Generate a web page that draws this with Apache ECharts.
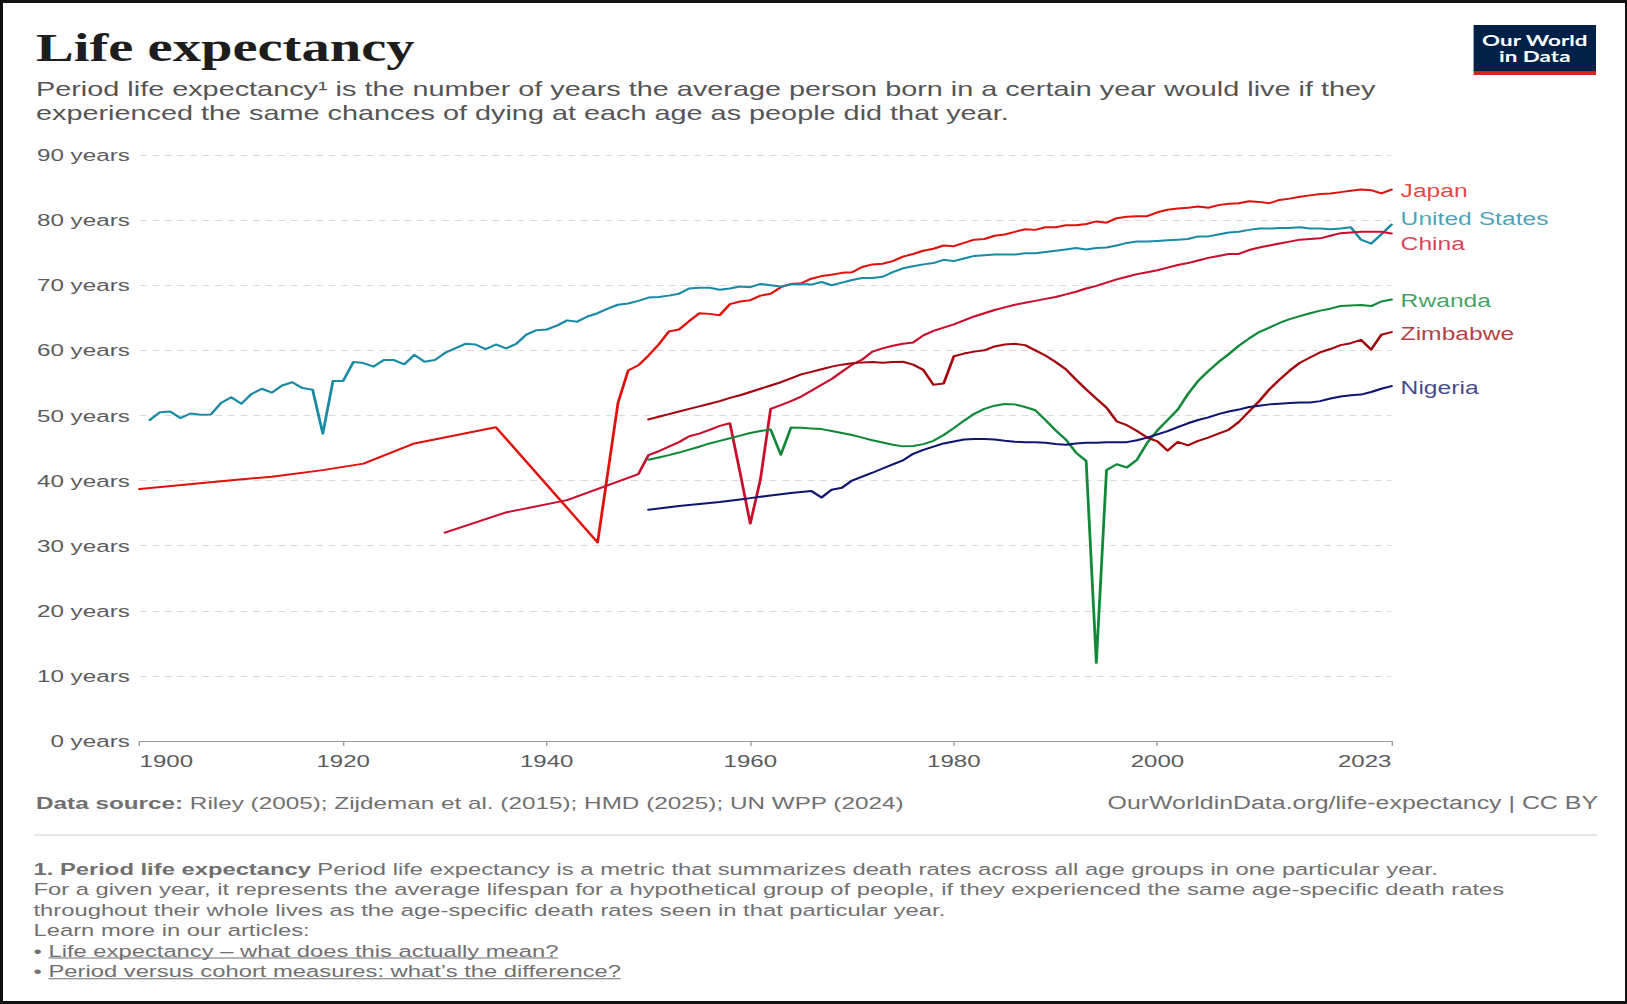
<!DOCTYPE html>
<html>
<head>
<meta charset="utf-8">
<script src="https://cdn.jsdelivr.net/npm/echarts@6/dist/echarts.min.js"></script>
<style>
html, body { margin: 0; padding: 0; background: #fff; }
#chart { position: absolute; left: 0; top: 0; width: 1162.142857px; height: 1004px; transform: scaleX(1.4); transform-origin: 0 0; }
#frame { position: absolute; left: 0; top: 0; width: 1627px; height: 1004px; box-sizing: border-box; border: 3px solid #111; border-right-width: 2px; pointer-events: none; }
</style>
</head>
<body>
<div id="chart"></div>
<div id="frame"></div>
<script>
// ---------------- DATA ----------------
const xTickYears = [1900, 1920, 1940, 1960, 1980, 2000, 2023];
const yTickMax = 90;

const countries = ['Japan', 'United States', 'China', 'Rwanda', 'Zimbabwe', 'Nigeria'];

// Japan: sparse early estimates, then annual from 1947
const japanEarlyYears = [1900, 1908, 1913, 1918, 1922, 1927, 1935, 1945];
const japanEarlyValues = [38.7, 39.9, 40.6, 41.6, 42.6, 45.7, 48.2, 30.5];
const japanAnnualStart = 1947;
const japanAnnualValues = [
  51.9, 56.9, 57.7,
  59.2, 60.9, 62.9, 63.2, 64.5, 65.7, 65.6, 65.4, 67.1, 67.5,
  67.7, 68.4, 68.7, 69.7, 70.2, 70.3, 71.0, 71.4, 71.6, 71.9,
  72.0, 72.8, 73.2, 73.3, 73.7, 74.4, 74.8, 75.3, 75.6, 76.1,
  76.0, 76.5, 77.0, 77.1, 77.6, 77.8, 78.2, 78.6, 78.5, 78.9,
  78.9, 79.2, 79.2, 79.4, 79.8, 79.6, 80.3, 80.5, 80.6, 80.6,
  81.2, 81.6, 81.8, 81.9, 82.1, 81.9, 82.3, 82.5, 82.6, 82.9,
  82.8, 82.6, 83.1, 83.3, 83.6, 83.8, 84.0, 84.1, 84.3, 84.5,
  84.7, 84.6, 84.1, 84.7
];

// United States: annual from 1901
const usAnnualStart = 1901;
const usAnnualValues = [
  49.3, 50.5, 50.6, 49.6, 50.3, 50.1, 50.15, 51.9, 52.8,
  51.8, 53.3, 54.1, 53.5, 54.6, 55.1, 54.2, 53.95, 47.2, 55.3,
  55.3, 58.2, 58.05, 57.5, 58.5, 58.5, 57.85, 59.3, 58.25, 58.5,
  59.6, 60.3, 61.0, 60.9, 60.2, 60.9, 60.3, 61.0, 62.4, 63.1,
  63.2, 63.8, 64.6, 64.4, 65.2, 65.7, 66.4, 67.0, 67.2, 67.6,
  68.1, 68.2, 68.4, 68.7, 69.5, 69.6, 69.6, 69.3, 69.5, 69.8,
  69.7, 70.2, 70.0, 69.8, 70.1, 70.2, 70.1, 70.5, 70.0, 70.4,
  70.8, 71.1, 71.1, 71.3, 72.0, 72.6, 72.9, 73.2, 73.4, 73.9,
  73.7, 74.1, 74.5, 74.6, 74.7, 74.7, 74.7, 74.9, 74.9, 75.1,
  75.3, 75.5, 75.7, 75.5, 75.7, 75.8, 76.1, 76.5, 76.7, 76.7,
  76.8, 76.9, 77.0, 77.1, 77.5, 77.5, 77.8, 78.1, 78.2, 78.5,
  78.7, 78.7, 78.8, 78.8, 78.9, 78.7, 78.7, 78.6, 78.7, 78.9,
  77.0, 76.4, 77.8, 79.3
];

// China: sparse 1930-1949, annual from 1950
const chinaEarlyYears = [1930, 1936, 1942, 1949];
const chinaEarlyValues = [32.0, 35.1, 37.0, 41.0];
const chinaAnnualStart = 1950;
const chinaAnnualValues = [
  43.9, 44.5, 45.2, 45.9, 46.8, 47.2, 47.8, 48.4, 48.8, 41.2,
  33.4, 40.2, 51.0, 51.6, 52.2, 52.9, 53.8, 54.7, 55.6, 56.7,
  57.8, 58.6, 59.8, 60.3, 60.7, 61.0, 61.2, 62.3, 63.0, 63.5,
  64.0, 64.6, 65.2, 65.7, 66.2, 66.6, 67.0, 67.3, 67.6, 67.9,
  68.2, 68.6, 69.0, 69.5, 69.9, 70.4, 70.9, 71.3, 71.7, 72.0,
  72.3, 72.7, 73.1, 73.4, 73.8, 74.2, 74.5, 74.8, 74.8, 75.4,
  75.8, 76.1, 76.4, 76.7, 77.0, 77.1, 77.2, 77.6, 78.0, 78.1,
  78.2, 78.2, 78.2, 77.95
];

const rwandaAnnualStart = 1950;
const rwandaAnnualValues = [
  43.2, 43.55, 43.9, 44.3, 44.75, 45.2, 45.7, 46.1, 46.5, 46.9,
  47.3, 47.6, 47.85, 43.95, 48.15, 48.1, 48.0, 47.9, 47.6, 47.3,
  47.0, 46.6, 46.2, 45.85, 45.5, 45.25, 45.3, 45.6, 46.1, 47.0,
  48.05, 49.2, 50.25, 51.0, 51.5, 51.75, 51.7, 51.3, 50.8, 49.3,
  47.7, 46.3, 44.3, 43.0, 12.0, 41.6, 42.5, 42.0, 43.2, 45.8,
  47.7, 49.3, 50.9, 53.3, 55.3, 56.8, 58.2, 59.4, 60.7, 61.8,
  62.8, 63.5, 64.2, 64.8, 65.25, 65.7, 66.1, 66.4, 66.8, 66.9,
  66.95, 66.8, 67.5, 67.8
];

const zimbabweAnnualStart = 1950;
const zimbabweAnnualValues = [
  49.4, 49.8, 50.2, 50.6, 51.0, 51.4, 51.8, 52.2, 52.7, 53.1,
  53.6, 54.1, 54.6, 55.1, 55.7, 56.3, 56.7, 57.1, 57.5, 57.8,
  58.0, 58.15, 58.2, 58.1, 58.2, 58.25, 57.8, 57.0, 54.7, 54.9,
  59.1, 59.5, 59.8, 60.0, 60.6, 60.9, 61.0, 60.8, 60.0, 59.2,
  58.2, 57.1, 55.5, 54.0, 52.6, 51.2, 49.1, 48.5, 47.6, 46.6,
  46.0, 44.6, 45.95, 45.4, 46.1, 46.6, 47.2, 47.8, 49.0, 50.6,
  52.2, 54.0, 55.5, 56.9, 58.1, 58.9, 59.7, 60.2, 60.8, 61.1,
  61.6, 60.1, 62.4, 62.8
];

const nigeriaAnnualStart = 1950;
const nigeriaAnnualValues = [
  35.5, 35.7, 35.9, 36.1, 36.25, 36.4, 36.55, 36.7, 36.9, 37.1,
  37.3, 37.5, 37.7, 37.9, 38.1, 38.25, 38.4, 37.4, 38.6, 38.9,
  40.0, 40.6, 41.2, 41.85, 42.5, 43.1, 44.1, 44.7, 45.2, 45.7,
  46.0, 46.3, 46.4, 46.4, 46.3, 46.1, 45.95, 45.9, 45.9, 45.8,
  45.6, 45.5, 45.7, 45.8, 45.8, 45.9, 45.9, 45.9, 46.2, 46.6,
  47.1, 47.6, 48.2, 48.8, 49.3, 49.7, 50.2, 50.6, 50.9, 51.3,
  51.5, 51.7, 51.8, 51.9, 52.0, 52.0, 52.2, 52.6, 52.9, 53.1,
  53.2, 53.6, 54.1, 54.5
];

// ---------------- TEXT ----------------
const titleText = 'Life expectancy';
const subtitleLines = [
  'Period life expectancy\u00B9 is the number of years the average person born in a certain year would live if they',
  'experienced the same chances of dying at each age as people did that year.'
];
const sourceBold = 'Data source:';
const sourceRest = ' Riley (2005); Zijdeman et al. (2015); HMD (2025); UN WPP (2024)';
const urlText = 'OurWorldinData.org/life-expectancy | CC BY';
const noteBold = '1. Period life expectancy';
const noteLines = [
  ' Period life expectancy is a metric that summarizes death rates across all age groups in one particular year.',
  'For a given year, it represents the average lifespan for a hypothetical group of people, if they experienced the same age-specific death rates',
  'throughout their whole lives as the age-specific death rates seen in that particular year.',
  'Learn more in our articles:'
];
const linkTexts = [
  'Life expectancy \u2013 what does this actually mean?',
  'Period versus cohort measures: what\u2019s the difference?'
];

// ---------------- STYLE / LAYOUT ----------------
const STRETCH = 1.4;
const CW = 1627 / STRETCH;
const SANS = '"Liberation Sans", Arial, Helvetica, sans-serif';
const SERIF = '"Liberation Serif", "Times New Roman", serif';
const colors = {
  'Japan': '#e0120e',
  'United States': '#1a8aa5',
  'China': '#c8102e',
  'Rwanda': '#12893a',
  'Zimbabwe': '#a2070f',
  'Nigeria': '#0f1670'
};
const labelDy = { 'Japan': 2, 'United States': -5.5, 'China': 11, 'Rwanda': 2, 'Zimbabwe': 2, 'Nigeria': 2 };

function annual(start, values) { return values.map((v, i) => [start + i, v]); }
function pairs(years, values) { return years.map((y, i) => [y, values[i]]); }

const seriesData = {
  'Japan': pairs(japanEarlyYears, japanEarlyValues).concat(annual(japanAnnualStart, japanAnnualValues)),
  'United States': annual(usAnnualStart, usAnnualValues),
  'China': pairs(chinaEarlyYears, chinaEarlyValues).concat(annual(chinaAnnualStart, chinaAnnualValues)),
  'Rwanda': annual(rwandaAnnualStart, rwandaAnnualValues),
  'Zimbabwe': annual(zimbabweAnnualStart, zimbabweAnnualValues),
  'Nigeria': annual(nigeriaAnnualStart, nigeriaAnnualValues)
};

// text measurement for fitting header/footer widths
const mctx = document.createElement('canvas').getContext('2d');
function measure(text, weight, size, family) { mctx.font = weight + ' ' + size + 'px ' + family; return mctx.measureText(text).width; }
function fit(parts, target) { // parts: [[text, weight, family]]
  let w = 0; parts.forEach(p => { w += measure(p[0], p[1], 100, p[2]); });
  return 100 * target / w;
}

const titleSize = fit([[titleText, 'bold', SERIF]], 378.7 / STRETCH);
const subSize = fit([[subtitleLines[0], 'normal', SANS]], 1339.6 / STRETCH);
const srcSize = fit([[sourceBold, 'bold', SANS], [sourceRest, 'normal', SANS]], 868.5 / STRETCH);
const urlSize = fit([[urlText, 'normal', SANS]], 490.8 / STRETCH);
const noteSize = fit([[noteLines[1], 'normal', SANS]], 1471.3 / STRETCH);

const leftX = 36 / STRETCH;
const noteX = 33.5 / STRETCH;
const noteYs = [868.5, 889.2, 910, 929.7, 950.4, 971.2];
const noteColor = '#707070';
const subColor = '#555555';

const graphics = [];
graphics.push({ type: 'text', x: leftX, y: 47, style: { text: titleText, fill: '#1d1d1d', fontSize: titleSize, fontWeight: 'bold', fontFamily: SERIF, align: 'left', verticalAlign: 'middle' } });
subtitleLines.forEach((t, i) => {
  graphics.push({ type: 'text', x: leftX, y: [88.5, 113][i], style: { text: t, fill: subColor, fontSize: subSize, fontFamily: SANS, align: 'left', verticalAlign: 'middle' } });
});
// logo
const logoX = 1473.6 / STRETCH, logoW = (1596 - 1473.6) / STRETCH;
graphics.push({ type: 'rect', shape: { x: logoX, y: 25, width: logoW, height: 46 }, style: { fill: '#002147' } });
graphics.push({ type: 'rect', shape: { x: logoX, y: 71, width: logoW, height: 4 }, style: { fill: '#ce261e' } });
graphics.push({ type: 'text', x: logoX + logoW / 2, y: 39.5, style: { text: 'Our World', fill: '#fff', fontSize: 16, fontWeight: 'bold', fontFamily: 'Lato, sans-serif', align: 'center', verticalAlign: 'middle' } });
graphics.push({ type: 'text', x: logoX + logoW / 2, y: 56, style: { text: 'in Data', fill: '#fff', fontSize: 16, fontWeight: 'bold', fontFamily: 'Lato, sans-serif', align: 'center', verticalAlign: 'middle' } });
// source line
graphics.push({ type: 'text', x: leftX, y: 803, style: { text: '{b|' + sourceBold + '}{n|' + sourceRest + '}', fill: noteColor, fontSize: srcSize, fontFamily: SANS, align: 'left', verticalAlign: 'middle',
  rich: { b: { fontWeight: 'bold', fontSize: srcSize, fontFamily: SANS, fill: noteColor }, n: { fontSize: srcSize, fontFamily: SANS, fill: noteColor } } } });
graphics.push({ type: 'text', x: 1598 / STRETCH, y: 803, style: { text: urlText, fill: noteColor, fontSize: urlSize, fontFamily: SANS, align: 'right', verticalAlign: 'middle' } });
// separator
graphics.push({ type: 'line', shape: { x1: 34 / STRETCH, y1: 835, x2: 1597 / STRETCH, y2: 835 }, style: { stroke: '#e6e6e6', lineWidth: 2 } });
// footnote
graphics.push({ type: 'text', x: noteX, y: noteYs[0], style: { text: '{b|' + noteBold + '}{n|' + noteLines[0] + '}', fill: noteColor, fontSize: noteSize, fontFamily: SANS, align: 'left', verticalAlign: 'middle',
  rich: { b: { fontWeight: 'bold', fontSize: noteSize, fontFamily: SANS, fill: noteColor }, n: { fontSize: noteSize, fontFamily: SANS, fill: noteColor } } } });
for (let i = 1; i < noteLines.length; i++) {
  graphics.push({ type: 'text', x: noteX, y: noteYs[i], style: { text: noteLines[i], fill: noteColor, fontSize: noteSize, fontFamily: SANS, align: 'left', verticalAlign: 'middle' } });
}
linkTexts.forEach((t, i) => {
  const y = noteYs[4 + i];
  const bullet = '\u2022 ';
  graphics.push({ type: 'text', x: noteX, y: y, style: { text: bullet + t, fill: noteColor, fontSize: noteSize, fontFamily: SANS, align: 'left', verticalAlign: 'middle' } });
  const bw = measure(bullet, 'normal', noteSize, SANS);
  const tw = measure(t, 'normal', noteSize, SANS);
  const uy = y + noteSize * 0.45;
  graphics.push({ type: 'line', shape: { x1: noteX + bw, y1: uy, x2: noteX + bw + tw, y2: uy }, style: { stroke: noteColor, lineWidth: 1 } });
});

// ---------------- CHART ----------------
const gridLeft = 139.6 / STRETCH;
const gridRightEdge = 1391.5 / STRETCH;

const lineSeries = countries.map(c => ({
  type: 'line',
  name: c,
  data: seriesData[c],
  showSymbol: false,
  symbol: 'none',
  lineStyle: { color: colors[c], width: 2, join: 'round', cap: 'round' },
  itemStyle: { color: colors[c] },
  emphasis: { disabled: true },
  silent: true
}));

const labelSeries = {
  type: 'scatter',
  name: 'labels',
  symbolSize: 0,
  silent: true,
  data: countries.map(c => {
    const d = seriesData[c];
    return {
      name: c,
      value: d[d.length - 1],
      label: { color: colors[c], offset: [0, labelDy[c]] }
    };
  }),
  label: {
    show: true,
    position: 'right',
    distance: 6.5,
    formatter: p => p.name,
    fontSize: 17.6,
    fontFamily: SANS
  }
};

const chart = echarts.init(document.getElementById('chart'), null, { renderer: 'svg', width: CW, height: 1004 });
chart.setOption({
  animation: false,
  backgroundColor: 'transparent',
  textStyle: { fontFamily: SANS },
  grid: { left: gridLeft, right: CW - gridRightEdge, top: 155, bottom: 263, containLabel: false },
  xAxis: {
    type: 'value',
    min: xTickYears[0],
    max: xTickYears[xTickYears.length - 1],
    axisLine: { show: true, lineStyle: { color: '#9b9b9b', width: 1 } },
    axisTick: { show: true, length: 5, lineStyle: { color: '#9b9b9b', width: 1 }, customValues: xTickYears },
    axisLabel: {
      customValues: xTickYears,
      formatter: v => String(v),
      color: '#5b5b5b',
      fontSize: 17.2,
      fontFamily: SANS,
      margin: 11,
      alignMinLabel: 'left',
      alignMaxLabel: 'right'
    },
    splitLine: { show: false }
  },
  yAxis: {
    type: 'value',
    min: 0,
    max: yTickMax,
    interval: 10,
    axisLine: { show: false },
    axisTick: { show: false },
    axisLabel: { formatter: '{value} years', color: '#5b5b5b', fontSize: 17.3, fontFamily: SANS, margin: 7 },
    splitLine: { show: true, lineStyle: { color: '#dadada', width: 1, type: [5, 4] } }
  },
  graphic: { elements: graphics },
  series: lineSeries.concat([labelSeries])
});
</script>
</body>
</html>
